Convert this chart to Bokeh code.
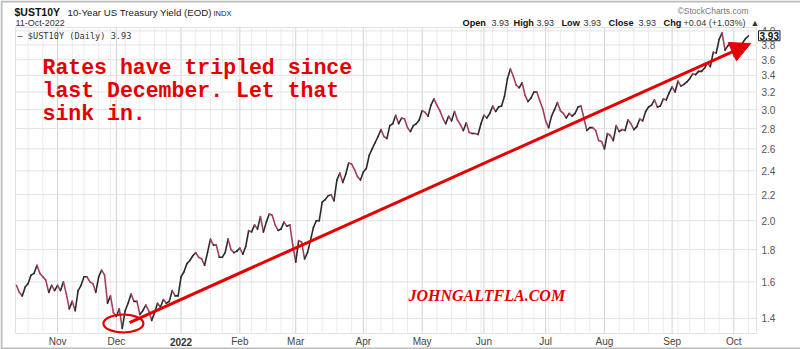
from datetime import date
from math import log, exp
from bokeh.plotting import figure
from bokeh.models import Range1d, Label, Arrow, NormalHead, BoxAnnotation
from bokeh.core.properties import value
from bokeh.embed import file_html
from bokeh.resources import INLINE

# ---------------- data ----------------
dates = [
    "2021-10-12", "2021-10-13", "2021-10-14", "2021-10-15", "2021-10-18", "2021-10-19", "2021-10-20",
    "2021-10-21", "2021-10-22", "2021-10-25", "2021-10-26", "2021-10-27", "2021-10-28", "2021-10-29",
    "2021-11-01", "2021-11-02", "2021-11-03", "2021-11-04", "2021-11-05", "2021-11-08", "2021-11-09",
    "2021-11-10", "2021-11-12", "2021-11-15", "2021-11-16", "2021-11-17", "2021-11-18", "2021-11-19",
    "2021-11-22", "2021-11-23", "2021-11-24", "2021-11-26", "2021-11-29", "2021-11-30",
    "2021-12-01", "2021-12-02", "2021-12-03", "2021-12-06", "2021-12-07", "2021-12-08", "2021-12-09",
    "2021-12-10", "2021-12-13", "2021-12-14", "2021-12-15", "2021-12-16", "2021-12-17", "2021-12-20",
    "2021-12-21", "2021-12-22", "2021-12-23", "2021-12-27", "2021-12-28", "2021-12-29", "2021-12-30",
    "2021-12-31",
    "2022-01-03", "2022-01-04", "2022-01-05", "2022-01-06", "2022-01-07", "2022-01-10", "2022-01-11",
    "2022-01-12", "2022-01-13", "2022-01-14", "2022-01-18", "2022-01-19", "2022-01-20", "2022-01-21",
    "2022-01-24", "2022-01-25", "2022-01-26", "2022-01-27", "2022-01-28", "2022-01-31",
    "2022-02-01", "2022-02-02", "2022-02-03", "2022-02-04", "2022-02-07", "2022-02-08", "2022-02-09",
    "2022-02-10", "2022-02-11", "2022-02-14", "2022-02-15", "2022-02-16", "2022-02-17", "2022-02-18",
    "2022-02-22", "2022-02-23", "2022-02-24", "2022-02-25", "2022-02-28",
    "2022-03-01", "2022-03-02", "2022-03-03", "2022-03-04", "2022-03-07", "2022-03-08", "2022-03-09",
    "2022-03-10", "2022-03-11", "2022-03-14", "2022-03-15", "2022-03-16", "2022-03-17", "2022-03-18",
    "2022-03-21", "2022-03-22", "2022-03-23", "2022-03-24", "2022-03-25", "2022-03-28", "2022-03-29",
    "2022-03-30", "2022-03-31",
    "2022-04-01", "2022-04-04", "2022-04-05", "2022-04-06", "2022-04-07", "2022-04-08", "2022-04-11",
    "2022-04-12", "2022-04-13", "2022-04-14", "2022-04-18", "2022-04-19", "2022-04-20", "2022-04-21",
    "2022-04-22", "2022-04-25", "2022-04-26", "2022-04-27", "2022-04-28", "2022-04-29",
    "2022-05-02", "2022-05-03", "2022-05-04", "2022-05-05", "2022-05-06", "2022-05-09", "2022-05-10",
    "2022-05-11", "2022-05-12", "2022-05-13", "2022-05-16", "2022-05-17", "2022-05-18", "2022-05-19",
    "2022-05-20", "2022-05-23", "2022-05-24", "2022-05-25", "2022-05-26", "2022-05-27", "2022-05-31",
    "2022-06-01", "2022-06-02", "2022-06-03", "2022-06-06", "2022-06-07", "2022-06-08", "2022-06-09",
    "2022-06-10", "2022-06-13", "2022-06-14", "2022-06-15", "2022-06-16", "2022-06-17", "2022-06-21",
    "2022-06-22", "2022-06-23", "2022-06-24", "2022-06-27", "2022-06-28", "2022-06-29", "2022-06-30",
    "2022-07-01", "2022-07-05", "2022-07-06", "2022-07-07", "2022-07-08", "2022-07-11", "2022-07-12",
    "2022-07-13", "2022-07-14", "2022-07-15", "2022-07-18", "2022-07-19", "2022-07-20", "2022-07-21",
    "2022-07-22", "2022-07-25", "2022-07-26", "2022-07-27", "2022-07-28", "2022-07-29",
    "2022-08-01", "2022-08-02", "2022-08-03", "2022-08-04", "2022-08-05", "2022-08-08", "2022-08-09",
    "2022-08-10", "2022-08-11", "2022-08-12", "2022-08-15", "2022-08-16", "2022-08-17", "2022-08-18",
    "2022-08-19", "2022-08-22", "2022-08-23", "2022-08-24", "2022-08-25", "2022-08-26", "2022-08-29",
    "2022-08-30", "2022-08-31",
    "2022-09-01", "2022-09-02", "2022-09-06", "2022-09-07", "2022-09-08", "2022-09-09", "2022-09-12",
    "2022-09-13", "2022-09-14", "2022-09-15", "2022-09-16", "2022-09-19", "2022-09-20", "2022-09-21",
    "2022-09-22", "2022-09-23", "2022-09-26", "2022-09-27", "2022-09-28", "2022-09-29", "2022-09-30",
    "2022-10-03", "2022-10-04", "2022-10-05", "2022-10-06", "2022-10-07", "2022-10-11",
]

yields = [
    1.58, 1.54, 1.52, 1.57, 1.59, 1.64, 1.65, 1.70, 1.65, 1.63, 1.61, 1.54, 1.58, 1.55,
    1.58, 1.55, 1.60, 1.53, 1.45, 1.49, 1.44, 1.55, 1.58, 1.63, 1.63, 1.60, 1.59, 1.54,
    1.63, 1.67, 1.64, 1.48, 1.52, 1.43,
    1.41, 1.45, 1.35, 1.44, 1.48, 1.53, 1.49, 1.49, 1.42, 1.44, 1.47, 1.44, 1.39, 1.43,
    1.48, 1.46, 1.50, 1.48, 1.49, 1.55, 1.52, 1.52,
    1.63, 1.66, 1.71, 1.73, 1.76, 1.78, 1.75, 1.74, 1.70, 1.78, 1.87, 1.83, 1.83, 1.75,
    1.75, 1.78, 1.87, 1.80, 1.78, 1.79,
    1.81, 1.77, 1.82, 1.93, 1.92, 1.97, 1.94, 2.03, 1.92, 1.99, 2.05, 2.04, 1.97, 1.93,
    1.94, 1.99, 1.96, 1.97, 1.83,
    1.72, 1.86, 1.85, 1.74, 1.78, 1.86, 1.95, 2.00, 2.00, 2.14, 2.16, 2.19, 2.20, 2.15,
    2.32, 2.38, 2.30, 2.37, 2.47, 2.46, 2.41, 2.35, 2.32,
    2.39, 2.42, 2.54, 2.60, 2.66, 2.72, 2.79, 2.72, 2.70, 2.83, 2.85, 2.94, 2.85, 2.91,
    2.90, 2.81, 2.77, 2.83, 2.85, 2.89,
    2.99, 2.97, 2.93, 3.05, 3.12, 3.05, 2.99, 2.91, 2.85, 2.93, 2.88, 2.98, 2.89, 2.84,
    2.78, 2.86, 2.76, 2.75, 2.75, 2.74, 2.85,
    2.94, 2.91, 2.96, 3.04, 2.98, 3.03, 3.04, 3.15, 3.36, 3.48, 3.39, 3.28, 3.25, 3.31,
    3.16, 3.09, 3.13, 3.20, 3.20, 3.10, 3.01,
    2.88, 2.81, 2.93, 3.00, 3.08, 2.99, 2.96, 2.91, 2.96, 2.93, 2.96, 3.03, 3.04, 2.91,
    2.78, 2.81, 2.81, 2.78, 2.68, 2.67,
    2.60, 2.75, 2.73, 2.68, 2.83, 2.77, 2.79, 2.78, 2.89, 2.85, 2.79, 2.82, 2.90, 2.88,
    2.98, 3.03, 3.05, 3.11, 3.03, 3.04, 3.12, 3.11, 3.19,
    3.26, 3.20, 3.33, 3.27, 3.29, 3.32, 3.36, 3.42, 3.41, 3.45, 3.45, 3.49, 3.56, 3.51,
    3.70, 3.69, 3.88, 3.97, 3.73, 3.79, 3.83,
    3.65, 3.62, 3.76, 3.83, 3.89, 3.93,
]

month_labels = ["Nov", "Dec", "2022", "Feb", "Mar", "Apr", "May", "Jun", "Jul", "Aug", "Sep", "Oct"]
y_ticks = [1.4, 1.6, 1.8, 2.0, 2.2, 2.4, 2.6, 2.8, 3.0, 3.2, 3.4, 3.6, 3.8, 4.0]

# ---------------- derived ----------------
d = [date.fromisoformat(s) for s in dates]
n = len(d)
idx = list(range(n))
month_idx = [i for i in range(1, n) if d[i].month != d[i - 1].month]
week_idx = [i for i in range(1, n)
            if (d[i].weekday() < d[i - 1].weekday() or (d[i] - d[i - 1]).days >= 7)
            and i not in month_idx]

W, H = 800, 349
# chart area in canvas pixels and in data units
CL, CR, CT, CB = 15, 756, 27, 333
XL, XR = -0.3, 251.7
YB, YT = 1.325, 4.05
PXX = (CR - CL) / (XR - XL)
PYY = (CB - CT) / (log(YT) - log(YB))


def dx(cx):
    return XL + (cx - CL) / PXX


def dy(cy):
    return exp(log(YB) + (CB - cy) / PYY)


RED = "#e30000"
UP = "#2b2b2b"
DOWN = "#a63d62"
SANS = "Liberation Sans"

p = figure(width=W, height=H, x_range=Range1d(dx(0), dx(W)), y_range=Range1d(dy(H), dy(0)),
           y_axis_type="log", x_axis_location=None, y_axis_location=None,
           output_backend="svg", toolbar_location=None,
           min_border_left=0, min_border_right=0, min_border_top=0, min_border_bottom=0)
p.background_fill_color = "white"
p.border_fill_color = "white"
p.outline_line_color = None
p.xgrid.visible = False
p.ygrid.visible = False

# grid lines (weekly, monthly, price ticks)
p.segment(x0=week_idx, y0=[YB] * len(week_idx), x1=week_idx, y1=[YT] * len(week_idx),
          line_color="#ebebeb", line_width=1)
p.segment(x0=month_idx, y0=[YB] * len(month_idx), x1=month_idx, y1=[YT] * len(month_idx),
          line_color="#d2d2d2", line_width=1)
p.segment(x0=[XL] * len(y_ticks), y0=y_ticks, x1=[XR] * len(y_ticks), y1=y_ticks,
          line_color="#e2e2e2", line_width=1)

# chart frame
p.add_layout(BoxAnnotation(left=XL, right=XR, bottom=YB, top=YT, fill_alpha=0,
                           line_color="#a0a0a0", line_width=1, level="underlay"))

# price line coloured by direction
x0 = idx[:-1]
x1 = idx[1:]
y0 = yields[:-1]
y1 = yields[1:]
cols = [UP if b >= a else DOWN for a, b in zip(y0, y1)]
p.segment(x0=x0, y0=y0, x1=x1, y1=y1, line_color=cols, line_width=1.6, line_cap="round")

# axis tick labels
norm_i = [m for m, l in zip(month_idx, month_labels) if l != "2022"]
norm_l = [l for l in month_labels if l != "2022"]
bold_i = [m for m, l in zip(month_idx, month_labels) if l == "2022"]
p.text(x=norm_i, y=[dy(341)] * len(norm_i), text=norm_l, text_font=value(SANS),
       text_font_size="10px", text_color="#444444", text_align="center", text_baseline="middle")
p.text(x=bold_i, y=[dy(341)] * len(bold_i), text=["2022"], text_font=value(SANS),
       text_font_size="10px", text_font_style="bold", text_color="#333333",
       text_align="center", text_baseline="middle")
p.text(x=[dx(761)] * len(y_ticks), y=y_ticks, text=[f"{t:.1f}" for t in y_ticks],
       text_font=value(SANS), text_font_size="10px", text_color="#555555",
       text_align="left", text_baseline="middle")

# circle at the December low and the arrow
low_i = min(range(60), key=lambda i: yields[i])
p.ellipse(x=[low_i + 0.4], y=[yields[low_i] * 1.018], width=40, height=18,
          width_units="screen", height_units="screen",
          fill_color=None, line_color=RED, line_width=2.2)
p.add_layout(Arrow(end=NormalHead(size=20, fill_color=RED, line_color=RED),
                   x_start=38.5, y_start=1.379, x_end=249.7, y_end=3.82,
                   line_color=RED, line_width=3))


def lab(text, cx, cy, size, color="#222222", font=SANS, style="normal",
        align="left", **kw):
    # cy is the wanted baseline in canvas pixels (from the top)
    px = float(size.replace("px", ""))
    p.add_layout(Label(x=cx, y=H - cy + 0.2 * px, x_units="screen", y_units="screen", text=text,
                       text_font=font, text_font_size=size, text_color=color,
                       text_font_style=style, text_align=align, text_baseline="alphabetic", **kw))


# header
lab("$UST10Y", 14, 14, "10.5px", style="bold", color="#111111")
lab("10-Year US Treasury Yield (EOD)", 67, 14, "9.7px")
lab("INDX", 213, 14, "7.5px")
lab("11-Oct-2022", 15, 24, "9px", color="#333333")
lab("©StockCharts.com", 677, 12, "8.5px", color="#777777")

ohlc = [("Open", 462, True), ("3.93", 491, False), ("High", 513, True), ("3.93", 536, False),
        ("Low", 561, True), ("3.93", 583, False), ("Close", 608, True), ("3.93", 638, False),
        ("Chg", 663, True), ("+0.04 (+1.03%)", 683, False), ("▲", 750, False)]
for t, cx, b in ohlc:
    lab(t, cx, 24, "9.2px" if b else "9px", style="bold" if b else "normal",
        color="#111111" if b else "#333333")

lab("\u2014 $UST10Y (Daily) 3.93", 17, 37, "8.6px", font="DejaVu Sans Mono", color="#333333")

# last-price box on the price scale
p.add_layout(Label(x=758, y=yields[-1], x_units="screen", y_units="data", text=f"{yields[-1]:.2f}",
                   text_font=SANS, text_font_size="10px", text_font_style="bold",
                   text_color="#111111", text_baseline="middle", text_align="left",
                   border_line_color="#222222", border_line_width=1,
                   background_fill_color="white", padding=1))

# commentary
for i, line in enumerate(["Rates have tripled since", "last December. Let that", "sink in."]):
    lab(line, 42, 72 + 23 * i, "21.5px", color=RED, font="Liberation Mono", style="bold")

lab("JOHNGALTFLA.COM", 408, 298, "16px", color=RED, font="Liberation Serif", style="bold italic")

# outer border (left / top / bottom)
p.add_layout(BoxAnnotation(left=1, right=W + 20, bottom=1, top=H - 1,
                           left_units="screen", right_units="screen",
                           bottom_units="screen", top_units="screen",
                           fill_alpha=0, line_color="#222222", line_width=2))

open("out.html", "w").write(file_html(p, INLINE))
